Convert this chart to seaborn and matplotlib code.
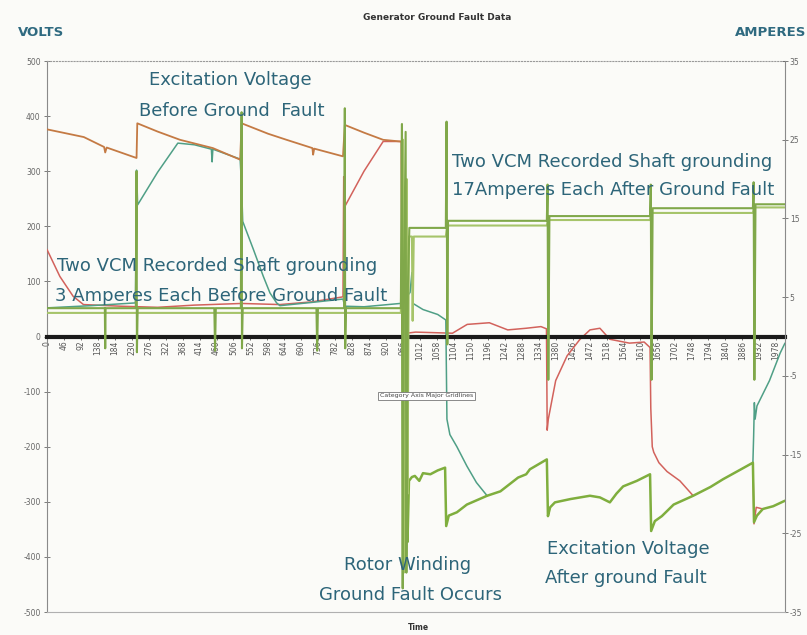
import matplotlib
matplotlib.use("Agg")
import matplotlib.pyplot as plt
import seaborn as sns

# ---- data (x = sample number, volts on left, amperes on right) ----
x_ticks = [0, 46, 92, 138, 184, 230, 276, 322, 368, 414, 460, 506, 552, 598, 644,
           690, 736, 782, 828, 874, 920, 966, 1012, 1058, 1104, 1150, 1196, 1242,
           1288, 1334, 1380, 1426, 1472, 1518, 1564, 1610, 1656, 1702, 1748, 1794,
           1840, 1886, 1932, 1978]
volt_ticks = [500, 400, 300, 200, 100, 0, -100, -200, -300, -400, -500]
amp_ticks = [35, 25, 15, 5, -5, -15, -25, -35]

# excitation voltage, main channel before the fault (orange)
main_pre_t = [0, 100, 155, 158, 162, 243, 245, 300, 361, 450, 524, 528, 600, 650,
              720, 722, 725, 803, 808, 860, 912, 958, 961]
main_pre_v = [376, 362, 344, 334, 343, 324, 387, 372, 357, 342, 321, 387, 368, 357,
              342, 330, 341, 327, 384, 370, 357, 354, 354]

# excitation voltage, main channel after the fault (green)
main_post_t = [963, 966, 970, 975, 978, 982, 990, 998, 1010, 1020, 1040, 1060, 1080,
               1083, 1090, 1112, 1139, 1194, 1230, 1278, 1300, 1310, 1356, 1359, 1365,
               1378, 1420, 1473, 1500, 1527, 1545, 1563, 1600, 1636, 1639, 1649, 1668,
               1700, 1753, 1800, 1834, 1880, 1915, 1918, 1926, 1942, 1970, 2002]
main_post_v = [354, -420, -300, -289, -373, -262, -255, -253, -262, -248, -250, -243,
               -238, -344, -325, -319, -305, -289, -281, -256, -250, -241, -223, -326,
               -310, -301, -295, -289, -292, -301, -285, -272, -262, -250, -353, -335,
               -326, -305, -289, -273, -259, -242, -229, -337, -325, -313, -308, -298]

# second channel (teal)
teal_a_t = [0, 120, 240, 243, 246, 300, 355, 400, 446, 448, 450, 524, 528, 531, 560,
            587, 605, 623, 632, 720, 803, 808, 860, 958, 962, 985, 990, 993, 1020,
            1060, 1082, 1085, 1093, 1112, 1139, 1165, 1194]
teal_a_v = [52, 56, 61, 302, 239, 298, 351, 348, 340, 317, 340, 322, 272, 209, 158,
            109, 79, 61, 56, 62, 68, 55, 54, 60, 60, 80, 116, 60, 49, 40, 30, -150,
            -178, -200, -235, -265, -289]
teal_b_t = [1915, 1917, 1919, 1921, 1926, 1960, 1989, 2002]
teal_b_v = [-229, -181, -120, -150, -126, -80, -30, -12]

# third channel (red)
red_a_t = [0, 35, 71, 99, 200, 300, 400, 528, 632, 720, 803, 805, 808, 860, 912, 958,
           961, 963, 1000, 1100, 1140, 1200, 1250, 1300, 1340, 1355, 1357, 1360, 1380,
           1411, 1446, 1473, 1500, 1527, 1580, 1620, 1636, 1638, 1642, 1646, 1660,
           1682, 1717, 1753]
red_a_v = [158, 109, 73, 58, 55, 53, 57, 60, 58, 63, 72, 290, 236, 300, 354, 354,
           354, 5, 8, 6, 22, 25, 12, 15, 18, 14, -170, -150, -80, -35, -5, 12, 15, -5,
           -12, -10, -20, -130, -200, -210, -229, -245, -262, -289]
red_b_t = [1915, 1918, 1924, 1942]
red_b_v = [-229, -340, -310, -313]

# shaft grounding current, two VCMs (amperes)
cur1_t = [0, 157, 158, 159, 241, 243, 244, 246, 454, 456, 458, 526, 528, 529, 531,
          731, 733, 735, 806, 808, 809, 811, 960, 963, 965, 968, 973, 975, 979, 983,
          1082, 1084, 1086, 1088, 1356, 1358, 1360, 1363, 1636, 1638, 1640, 1643,
          1915, 1917, 1919, 1922, 2002]
cur1_v = [3.6, 3.6, -1.5, 3.6, 3.6, 21, -2, 3.6, 3.6, -1.8, 3.6, 3.6, 28.5, -1.5,
          3.6, 3.6, -1.8, 3.6, 3.6, 29, -1.5, 3.6, 3.6, 27, -32, 4, 26, -30, 6, 13.8,
          13.8, 27.3, -1, 14.7, 14.7, 19.3, -5.5, 15.3, 15.3, 19.3, -5.5, 16.3, 16.3,
          19.6, -5.5, 16.8, 16.8]
cur2_t = [0, 960, 966, 968, 972, 976, 978, 982, 990, 992, 995, 1082, 1086, 1356,
          1360, 1636, 1640, 1915, 1919, 2002]
cur2_v = [3.0, 3.0, 25, -30, 3, 20, -20, 12.7, 12.7, 2, 12.7, 12.7, 14.1, 14.1,
          14.8, 14.8, 15.7, 15.7, 16.4, 16.4]

# ---- plotting ----
sns.set_style("white")
plt.rcParams["font.family"] = ["DejaVu Sans"]
plt.rcParams["axes.unicode_minus"] = False

fig = plt.figure(figsize=(8.07, 6.35), dpi=100, facecolor="#fbfbf8")
ax = fig.add_axes([0.0582, 0.0362, 0.9145, 0.8677])
ax.set_facecolor("#fbfbf8")
ax2 = ax.twinx()


def draw(axis, t, v, color, lw, z=2):
    sns.lineplot(x=t, y=v, ax=axis, color=color, lw=lw, sort=False,
                 estimator=None, zorder=z)


draw(ax, red_a_t, red_a_v, "#d2625c", 1.1, 3)
draw(ax, red_b_t, red_b_v, "#d2625c", 1.1, 3)
draw(ax, teal_a_t, teal_a_v, "#4f9f86", 1.1, 3)
draw(ax, teal_b_t, teal_b_v, "#4f9f86", 1.1, 3)
draw(ax, main_pre_t, main_pre_v, "#c47a44", 1.3, 4)
draw(ax, main_post_t, main_post_v, "#7fae3e", 1.8, 4)
draw(ax2, cur2_t, cur2_v, "#a6c46a", 1.5, 3)
draw(ax2, cur1_t, cur1_v, "#80a84a", 1.5, 3)

ax.set_xlim(0, 2002)
ax.set_ylim(-500, 500)
ax2.set_ylim(-35, 35)

ax.set_xticks(x_ticks)
ax.set_xticklabels([str(t) for t in x_ticks])
ax.set_yticks(volt_ticks)
ax2.set_yticks(amp_ticks)
ax.set_xlabel("")
ax.set_ylabel("")
ax2.set_ylabel("")

# category axis crosses at zero volts
ax.spines["bottom"].set_position(("data", 0))
ax.spines["bottom"].set_color("#1a1a1a")
ax.spines["bottom"].set_linewidth(3)
ax.spines["bottom"].set_zorder(5)
ax.spines["left"].set_color("#8a8a8a")
ax.spines["right"].set_visible(False)
ax.spines["top"].set_color("#9a9a9a")
ax.spines["top"].set_linestyle(":")
ax2.spines["top"].set_visible(False)
ax2.spines["left"].set_visible(False)
ax2.spines["right"].set_color("#8a8a8a")
ax2.spines["bottom"].set_color("#b0b0b0")
ax2.spines["bottom"].set_linewidth(0.8)

ax.tick_params(axis="x", direction="out", length=2, width=0.6, pad=1,
               labelsize=5.5, colors="#555555", bottom=True, labelrotation=90)
ax.tick_params(axis="y", direction="inout", length=5, width=0.6, pad=2,
               labelsize=5.5, colors="#666666", left=True)
ax2.tick_params(axis="y", direction="inout", length=5, width=0.6, pad=1,
                labelsize=5.5, colors="#666666", right=True)
ax.grid(False)
ax2.grid(False)

note = dict(color="#2d6579", fontsize=13)
fig.text(437 / 807, 1 - 17 / 635, "Generator Ground Fault Data", ha="center",
         va="center", fontsize=6.5, fontweight="bold", color="#333333")
fig.text(18 / 807, 1 - 33 / 635, "VOLTS", ha="left", va="center",
         fontsize=9.5, fontweight="bold", color="#2f6a80")
fig.text(806 / 807, 1 - 33 / 635, "AMPERES", ha="right", va="center",
         fontsize=9.5, fontweight="bold", color="#2f6a80")
fig.text(418 / 807, 1 - 628 / 635, "Time", ha="center", va="center",
         fontsize=5.5, fontweight="bold", color="#333333")

fig.text(230 / 807, 1 - 80 / 635, "Excitation Voltage", ha="center", va="center", **note)
fig.text(232 / 807, 1 - 111 / 635, "Before Ground  Fault", ha="center", va="center", **note)
fig.text(452 / 807, 1 - 162 / 635, "Two VCM Recorded Shaft grounding", ha="left",
         va="center", **note)
fig.text(452 / 807, 1 - 190 / 635, "17Amperes Each After Ground Fault", ha="left",
         va="center", **note)
fig.text(57 / 807, 1 - 266 / 635, "Two VCM Recorded Shaft grounding", ha="left",
         va="center", **note)
fig.text(55 / 807, 1 - 296 / 635, "3 Amperes Each Before Ground Fault", ha="left",
         va="center", **note)
fig.text(408 / 807, 1 - 565 / 635, "Rotor Winding", ha="center", va="center", **note)
fig.text(410 / 807, 1 - 595 / 635, "Ground Fault Occurs", ha="center", va="center", **note)
fig.text(547 / 807, 1 - 549 / 635, "Excitation Voltage", ha="left", va="center", **note)
fig.text(545 / 807, 1 - 578 / 635, "After ground Fault", ha="left", va="center", **note)

fig.text(427 / 807, 1 - 396 / 635, "Category Axis Major Gridlines", ha="center",
         va="center", fontsize=4.5, color="#444444",
         bbox=dict(boxstyle="square,pad=0.3", fc="white", ec="#777777", lw=0.6))

fig.savefig("out.png", dpi=100, facecolor=fig.get_facecolor())
